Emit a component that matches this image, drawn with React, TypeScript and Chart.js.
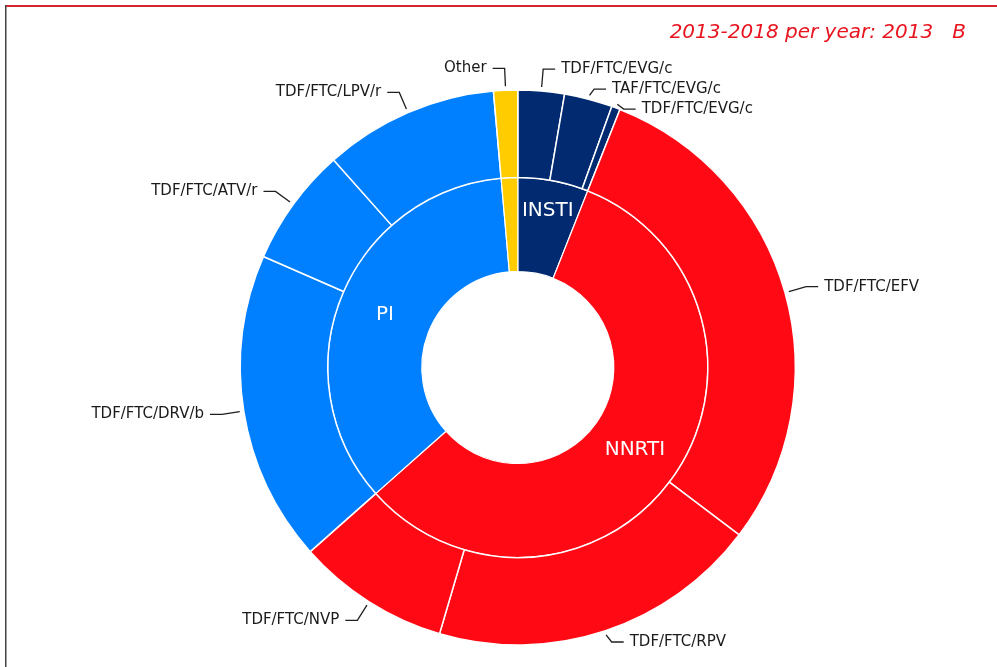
import React, { useEffect, useRef } from 'react';
import { Chart, registerables } from 'chart.js';

Chart.register(...registerables);

// Inner ring: drug classes
const classNames = ['INSTI', 'NNRTI', 'PI', 'Other'];
const classValues = [6.0, 57.45, 35.15, 1.4];
const classColors = ['#012a70', '#ff0915', '#0080ff', '#ffcc00'];

// Outer ring: regimens (grouped by class, same order)
const regimenNames = [
  'TDF/FTC/EVG/c',
  'TAF/FTC/EVG/c',
  'TDF/FTC/EVG/c',
  'TDF/FTC/EFV',
  'TDF/FTC/RPV',
  'TDF/FTC/NVP',
  'TDF/FTC/DRV/b',
  'TDF/FTC/ATV/r',
  'TDF/FTC/LPV/r',
  'Other',
];
const regimenValues = [2.7, 2.8, 0.5, 29.3, 19.25, 8.9, 18.1, 6.9, 10.15, 1.4];
const regimenClass = [0, 0, 0, 1, 1, 1, 2, 2, 2, 3];

const titleText = '2013-2018 per year: 2013   B';

const FONT = '"DejaVu Sans", Verdana, sans-serif';

const decorPlugin = {
  id: 'decor',
  beforeDraw(chart: any) {
    const ctx = chart.ctx;
    ctx.save();
    ctx.fillStyle = '#ffffff';
    ctx.fillRect(0, 0, chart.width, chart.height);
    ctx.fillStyle = '#d52630';
    ctx.fillRect(5, 5, chart.width - 5, 2);
    ctx.fillStyle = '#444444';
    ctx.fillRect(5, 5, 1.5, chart.height - 5);
    ctx.font = 'italic 20px ' + FONT;
    ctx.fillStyle = '#e8141f';
    ctx.textAlign = 'right';
    ctx.textBaseline = 'alphabetic';
    ctx.fillText(titleText, 966, 38);
    ctx.restore();
  },
  afterDatasetsDraw(chart: any) {
    const ctx = chart.ctx;
    ctx.save();
    // inner ring labels
    const innerMeta = chart.getDatasetMeta(1);
    ctx.font = '20px ' + FONT;
    ctx.fillStyle = '#ffffff';
    ctx.textAlign = 'center';
    ctx.textBaseline = 'middle';
    innerMeta.data.forEach((arc: any, i: number) => {
      const p = arc.getProps(['x', 'y', 'startAngle', 'endAngle', 'innerRadius', 'outerRadius'], true);
      const span = p.endAngle - p.startAngle;
      if (span < 0.2) return;
      const a = (p.startAngle + p.endAngle) / 2;
      const tw = ctx.measureText(classNames[i]).width + 8;
      let r = (p.innerRadius + p.outerRadius) / 2;
      while (2 * r * Math.sin(Math.min(span, Math.PI) / 2) < tw && r < p.outerRadius - 20) r += 1;
      ctx.fillText(classNames[i], p.x + r * Math.cos(a), p.y + r * Math.sin(a));
    });

    // outer ring labels with leader lines
    const outerMeta = chart.getDatasetMeta(0);
    const items = outerMeta.data.map((arc: any, i: number) => {
      const p = arc.getProps(['x', 'y', 'startAngle', 'endAngle', 'outerRadius'], true);
      const a = (p.startAngle + p.endAngle) / 2;
      const c = Math.cos(a);
      const s = Math.sin(a);
      const R = p.outerRadius;
      return {
        i,
        right: c >= 0,
        sx: p.x + (R + 4) * c,
        sy: p.y + (R + 4) * s,
        ex: p.x + (R + 22) * c,
        ey: p.y + (R + 22) * s,
        ly: p.y + (R + 22) * s,
      };
    });
    const maxY = chart.height - 25;
    [true, false].forEach((side) => {
      const list = items.filter((it: any) => it.right === side).sort((u: any, v: any) => u.ey - v.ey);
      for (let k = 1; k < list.length; k++) {
        if (list[k].ly < list[k - 1].ly + 20) list[k].ly = list[k - 1].ly + 20;
      }
      for (let k = list.length - 1; k >= 0; k--) {
        const lim = k === list.length - 1 ? maxY : list[k + 1].ly - 20;
        if (list[k].ly > lim) list[k].ly = lim;
      }
    });
    ctx.strokeStyle = '#1e1e1e';
    ctx.lineWidth = 1.3;
    ctx.font = '15px ' + FONT;
    ctx.fillStyle = '#1a1a1a';
    ctx.textBaseline = 'middle';
    items.forEach((it: any) => {
      const dir = it.right ? 1 : -1;
      ctx.beginPath();
      ctx.moveTo(it.sx, it.sy);
      ctx.lineTo(it.ex, it.ly);
      ctx.lineTo(it.ex + dir * 12, it.ly);
      ctx.stroke();
      ctx.textAlign = it.right ? 'left' : 'right';
      ctx.fillText(regimenNames[it.i], it.ex + dir * 18, it.ly);
    });
    ctx.restore();
  },
};

export default function App() {
  const canvasRef = useRef<HTMLCanvasElement | null>(null);

  useEffect(() => {
    const canvas = canvasRef.current;
    if (!canvas) return;
    const chart = new Chart(canvas, {
      type: 'doughnut',
      data: {
        labels: regimenNames,
        datasets: [
          {
            data: regimenValues,
            backgroundColor: regimenClass.map((c) => classColors[c]),
            borderColor: '#ffffff',
            borderWidth: 1.5,
            hoverBorderWidth: 1.5,
            hoverOffset: 0,
            offset: 0,
            weight: 87.5,
          } as any,
          {
            data: classValues,
            backgroundColor: classColors,
            borderColor: '#ffffff',
            borderWidth: 1.2,
            hoverBorderWidth: 1.2,
            hoverOffset: 0,
            offset: 0,
            weight: 94,
          } as any,
        ],
      },
      options: {
        responsive: false,
        animation: false,
        devicePixelRatio: 1,
        events: [],
        cutout: 96,
        layout: { padding: { top: 89.25, bottom: 21.25, left: 239.55, right: 200.95 } },
        plugins: {
          legend: { display: false },
          tooltip: { enabled: false },
          title: { display: false },
        },
      } as any,
      plugins: [decorPlugin],
    });
    return () => chart.destroy();
  }, []);

  return (
    <div style={{ position: 'fixed', left: 0, top: 0, width: 997, height: 667, background: '#fff' }}>
      <canvas ref={canvasRef} width={997} height={667} style={{ display: 'block' }} />
    </div>
  );
}
